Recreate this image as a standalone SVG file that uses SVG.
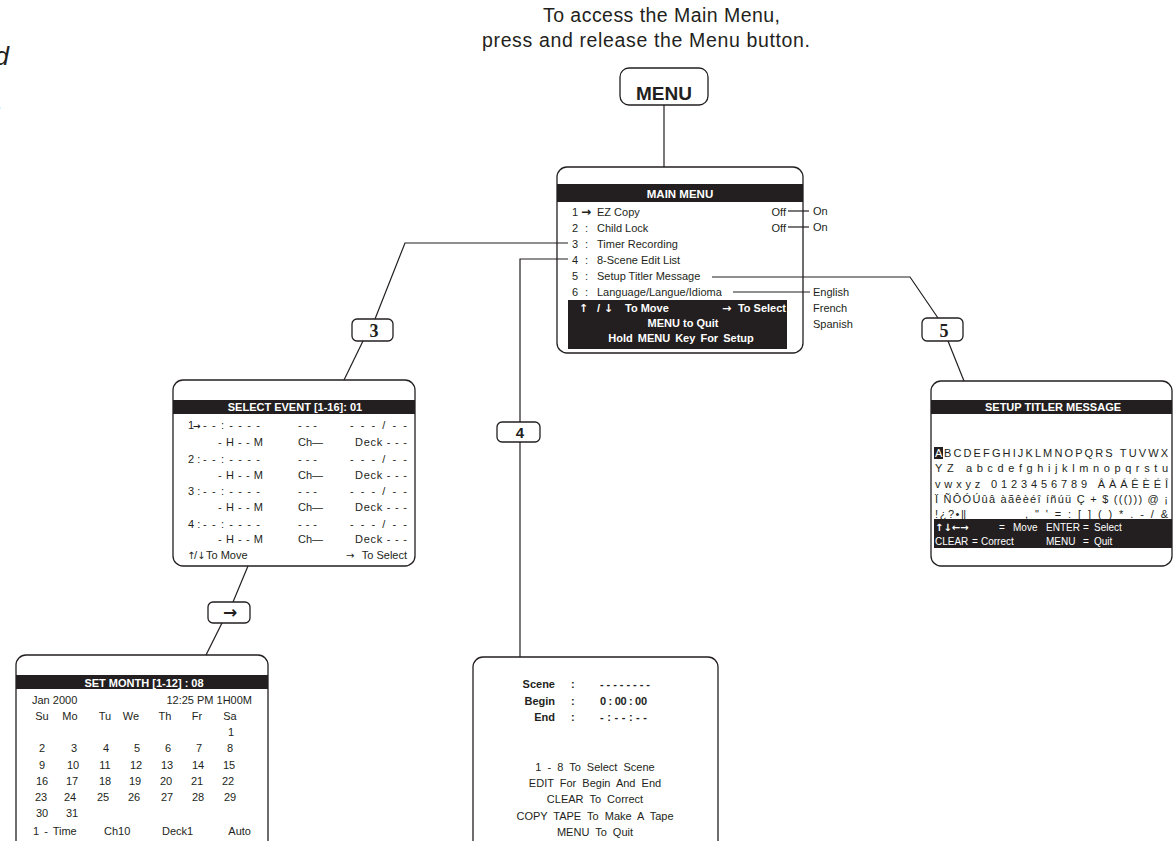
<svg xmlns="http://www.w3.org/2000/svg" width="1173" height="841" viewBox="0 0 1173 841">
<defs>
<style>
text{font-family:"Liberation Sans",Arial,"DejaVu Sans",sans-serif;font-size:11px;fill:#231f20}
.b{font-weight:bold}
.w{fill:#fff}
.m{text-anchor:middle}
.e{text-anchor:end}
.ar{font-family:"DejaVu Sans",sans-serif;font-weight:bold}
.box{fill:#fff;stroke:#231f20;stroke-width:1.3}
.bar{fill:#231f20}
.ln{fill:none;stroke:#231f20;stroke-width:1.2}
.lbl{fill:#fff;stroke:#231f20;stroke-width:1.3}
.it{font-style:italic;font-size:26px}
.title{font-size:19.5px}
.sm{font-size:10px}
</style>
</defs>
<rect width="1173" height="841" fill="#fff"/>

<g id="margin-text">
<text class="it e" x="9" y="65">d</text>
<text class="it e" x="3" y="110">,</text>
</g>

<g id="intro">
<text class="title" x="543" y="22" textLength="237" lengthAdjust="spacing">To access the Main Menu,</text>
<text class="title" x="482" y="47" textLength="328" lengthAdjust="spacing">press and release the Menu button.</text>
</g>

<g id="menu-button">
<rect class="box" x="620" y="68" width="88" height="37" rx="9"/>
<text class="b m" x="664" y="100" style="font-size:19px">MENU</text>
</g>

<g id="main-menu">
<rect class="box" x="557" y="167" width="246" height="186" rx="10"/>
<rect class="bar" x="557" y="184" width="246" height="18"/>
<text class="b w m" x="680" y="198" style="font-size:11.5px">MAIN MENU</text>
<text x="572" y="216">1</text><text class="ar" x="581" y="216" style="font-size:12px">→</text><text x="597" y="216">EZ Copy</text>
<text x="572" y="232">2</text><text x="585" y="232">:</text><text x="597" y="232">Child Lock</text>
<text x="572" y="248">3</text><text x="585" y="248">:</text><text x="597" y="248">Timer Recording</text>
<text x="572" y="264">4</text><text x="585" y="264">:</text><text x="597" y="264">8-Scene Edit List</text>
<text x="572" y="280">5</text><text x="585" y="280">:</text><text x="597" y="280">Setup Titler Message</text>
<text x="572" y="296">6</text><text x="585" y="296">:</text><text x="597" y="296">Language/Langue/Idioma</text>
<text class="e" x="786" y="216">Off</text>
<text class="e" x="786" y="232">Off</text>
<rect class="bar" x="568" y="300" width="219" height="49"/>
<text class="ar w" x="579" y="312" style="font-size:11px">↑</text>
<text class="b w" x="597" y="312">/</text>
<text class="ar w" x="604" y="312" style="font-size:11px">↓</text>
<text class="b w" x="625" y="312">To Move</text>
<text class="ar w" x="722" y="312" style="font-size:11px">→</text>
<text class="b w e" x="786" y="312">To Select</text>
<text class="b w m" x="683" y="327">MENU to Quit</text>
<text class="b w m" x="681" y="342" style="word-spacing:2px">Hold MENU Key For Setup</text>
<text x="813" y="215">On</text>
<text x="813" y="231">On</text>
<text x="813" y="296">English</text>
<text x="813" y="312">French</text>
<text x="813" y="328">Spanish</text>
</g>

<g id="label-3">
<rect class="lbl" x="352" y="319" width="41" height="22" rx="5"/>
<text class="b m" x="374" y="337" style="font-size:18px;font-family:'Liberation Serif',serif">3</text>
</g>

<g id="label-4">
<rect class="lbl" x="497" y="422" width="43" height="20" rx="5"/>
<text class="b m" x="520" y="438" style="font-size:15px">4</text>
</g>

<g id="label-5">
<rect class="lbl" x="922" y="318" width="41" height="23" rx="5"/>
<text class="b m" x="944" y="337" style="font-size:18px;font-family:'Liberation Serif',serif">5</text>
</g>

<g id="label-arrow">
<rect class="lbl" x="208" y="602" width="42" height="21" rx="5"/>
<text class="ar m" x="230" y="618" style="font-size:17px">→</text>
</g>

<g id="select-event">
<rect class="box" x="173" y="380" width="242" height="186" rx="10"/>
<rect class="bar" x="173" y="400" width="242" height="14"/>
<text class="b w m" x="295" y="411">SELECT EVENT [1-16]: 01</text>
<text x="188" y="429">1</text><text class="ar" x="193" y="429" style="font-size:9px">→</text>
<text x="203" y="429" textLength="57" lengthAdjust="spacing">- - : - - - -</text>
<text x="298" y="429" textLength="19" lengthAdjust="spacing">- - -</text>
<text x="350" y="429" textLength="57" lengthAdjust="spacing">- - - / - -</text>
<text x="218" y="446" textLength="45" lengthAdjust="spacing">- H - - M</text>
<text x="298" y="446">Ch—</text>
<text x="355" y="446" textLength="52" lengthAdjust="spacing">Deck - - -</text>
<text x="188" y="463">2 :</text>
<text x="203" y="463" textLength="57" lengthAdjust="spacing">- - : - - - -</text>
<text x="298" y="463" textLength="19" lengthAdjust="spacing">- - -</text>
<text x="350" y="463" textLength="57" lengthAdjust="spacing">- - - / - -</text>
<text x="218" y="479" textLength="45" lengthAdjust="spacing">- H - - M</text>
<text x="298" y="479">Ch—</text>
<text x="355" y="479" textLength="52" lengthAdjust="spacing">Deck - - -</text>
<text x="188" y="495">3 :</text>
<text x="203" y="495" textLength="57" lengthAdjust="spacing">- - : - - - -</text>
<text x="298" y="495" textLength="19" lengthAdjust="spacing">- - -</text>
<text x="350" y="495" textLength="57" lengthAdjust="spacing">- - - / - -</text>
<text x="218" y="511" textLength="45" lengthAdjust="spacing">- H - - M</text>
<text x="298" y="511">Ch—</text>
<text x="355" y="511" textLength="52" lengthAdjust="spacing">Deck - - -</text>
<text x="188" y="528">4 :</text>
<text x="203" y="528" textLength="57" lengthAdjust="spacing">- - : - - - -</text>
<text x="298" y="528" textLength="19" lengthAdjust="spacing">- - -</text>
<text x="350" y="528" textLength="57" lengthAdjust="spacing">- - - / - -</text>
<text x="218" y="543" textLength="45" lengthAdjust="spacing">- H - - M</text>
<text x="298" y="543">Ch—</text>
<text x="355" y="543" textLength="52" lengthAdjust="spacing">Deck - - -</text>
<text class="ar" x="187" y="559" style="font-size:10px;font-weight:normal">↑</text>
<text x="194" y="559">/</text>
<text class="ar" x="197" y="559" style="font-size:10px;font-weight:normal">↓</text>
<text x="206" y="559">To Move</text>
<text class="ar" x="346" y="559" style="font-size:10px;font-weight:normal">→</text>
<text class="e" x="407" y="559">To Select</text>
</g>

<g id="set-month">
<rect class="box" x="16" y="655" width="252" height="200" rx="10"/>
<rect class="bar" x="16" y="675" width="252" height="14"/>
<text class="b w m" x="144" y="687">SET MONTH [1-12]  : 08</text>
<text x="32" y="704">Jan 2000</text>
<text class="e" x="252" y="704">12:25 PM 1H00M</text>
<text class="m" x="42" y="720">Su</text><text class="m" x="70" y="720">Mo</text><text class="m" x="105" y="720">Tu</text><text class="m" x="131" y="720">We</text><text class="m" x="165" y="720">Th</text><text class="m" x="197" y="720">Fr</text><text class="m" x="230" y="720">Sa</text>
<text class="m" x="231" y="736">1</text>
<text class="m" x="42" y="752">2</text><text class="m" x="74" y="752">3</text><text class="m" x="106" y="752">4</text><text class="m" x="137" y="752">5</text><text class="m" x="168" y="752">6</text><text class="m" x="199" y="752">7</text><text class="m" x="230" y="752">8</text>
<text class="m" x="42" y="769">9</text><text class="m" x="73" y="769">10</text><text class="m" x="105" y="769">11</text><text class="m" x="136" y="769">12</text><text class="m" x="167" y="769">13</text><text class="m" x="198" y="769">14</text><text class="m" x="229" y="769">15</text>
<text class="m" x="42" y="785">16</text><text class="m" x="72" y="785">17</text><text class="m" x="105" y="785">18</text><text class="m" x="135" y="785">19</text><text class="m" x="166" y="785">20</text><text class="m" x="197" y="785">21</text><text class="m" x="228" y="785">22</text>
<text class="m" x="41" y="801">23</text><text class="m" x="70" y="801">24</text><text class="m" x="103" y="801">25</text><text class="m" x="134" y="801">26</text><text class="m" x="167" y="801">27</text><text class="m" x="198" y="801">28</text><text class="m" x="230" y="801">29</text>
<text class="m" x="42" y="817">30</text><text class="m" x="72" y="817">31</text>
<text x="33" y="835" style="word-spacing:2px">1 - Time</text>
<text x="104" y="835">Ch10</text>
<text x="162" y="835">Deck1</text>
<text class="e" x="251" y="835">Auto</text>
</g>

<g id="scene-edit">
<rect class="box" x="473" y="657" width="245" height="200" rx="10"/>
<text class="b e" x="555" y="688">Scene</text><text class="b" x="571" y="688">:</text>
<text class="b" x="600" y="688" textLength="50" lengthAdjust="spacing">- - - - - - - -</text>
<text class="b e" x="555" y="704.5">Begin</text><text class="b" x="571" y="704.5">:</text>
<text class="b" x="600" y="704.5" textLength="47" lengthAdjust="spacing">0 : 00 : 00</text>
<text class="b e" x="555" y="721">End</text><text class="b" x="571" y="721">:</text>
<text class="b" x="600" y="721" textLength="47" lengthAdjust="spacing">- : - - : - -</text>
<g style="word-spacing:3px">
<text class="m" x="595" y="771">1 - 8 To Select Scene</text>
<text class="m" x="595" y="787">EDIT For Begin And End</text>
<text class="m" x="595" y="803">CLEAR To Correct</text>
<text class="m" x="595" y="820">COPY TAPE To Make A Tape</text>
<text class="m" x="595" y="836">MENU To Quit</text>
</g>
</g>

<g id="setup-titler">
<rect class="box" x="931" y="381" width="241" height="185" rx="10"/>
<rect class="bar" x="931" y="400" width="241" height="14"/>
<text class="b w m" x="1053" y="411">SETUP TITLER MESSAGE</text>
<rect class="bar" x="934" y="447" width="9" height="12"/>
<text class="w" x="935" y="457">A</text>
<text x="944" y="457" textLength="224" lengthAdjust="spacing">BCDEFGHIJKLMNOPQRS TUVWX</text>
<text x="935" y="472" textLength="233" lengthAdjust="spacing">YZ  abcdefghijklmnopqrstu</text>
<text x="935" y="488" textLength="233" lengthAdjust="spacing">vwxyz  0123456789  ÂÀÁÊÈÉÎ</text>
<text x="935" y="503" textLength="233" lengthAdjust="spacing">Ï ÑÔÓÚûâ àãêèéî íñúü Ç + $ ((())) @ ¡</text>
<text x="935" y="518" textLength="31" lengthAdjust="spacing">! ¿ ? • ||</text>
<text x="1025" y="518" textLength="143" lengthAdjust="spacing">, " ' = : [ ] ( ) * . - / &amp;</text>
<rect class="bar" x="934" y="519" width="238" height="29"/>
<text class="ar w" x="935" y="531" style="font-size:10px">↑↓←→</text>
<text class="w sm" x="999" y="531">=</text>
<text class="w sm" x="1013" y="531">Move</text>
<text class="w sm" x="1046" y="531">ENTER</text>
<text class="w sm" x="1083" y="531">=</text>
<text class="w sm" x="1094" y="531">Select</text>
<text class="w sm" x="935" y="545">CLEAR</text>
<text class="w sm" x="972" y="545">=</text>
<text class="w sm" x="981" y="545">Correct</text>
<text class="w sm" x="1046" y="545">MENU</text>
<text class="w sm" x="1083" y="545">=</text>
<text class="w sm" x="1094" y="545">Quit</text>
</g>

<g id="connectors" class="ln">
<path d="M664,105 V167"/>
<path d="M568,243 H405 L375,319"/>
<path d="M363,341 L344,380"/>
<path d="M248,566 L233,602"/>
<path d="M222,623 L206,655"/>
<path d="M568,259 H520 V422"/>
<path d="M520,442 V657"/>
<path d="M712,277 H910 L938,318"/>
<path d="M948,341 L964,381"/>
<path d="M788,211 H809"/>
<path d="M788,227 H809"/>
<path d="M733,292 H810"/>
</g>
</svg>
